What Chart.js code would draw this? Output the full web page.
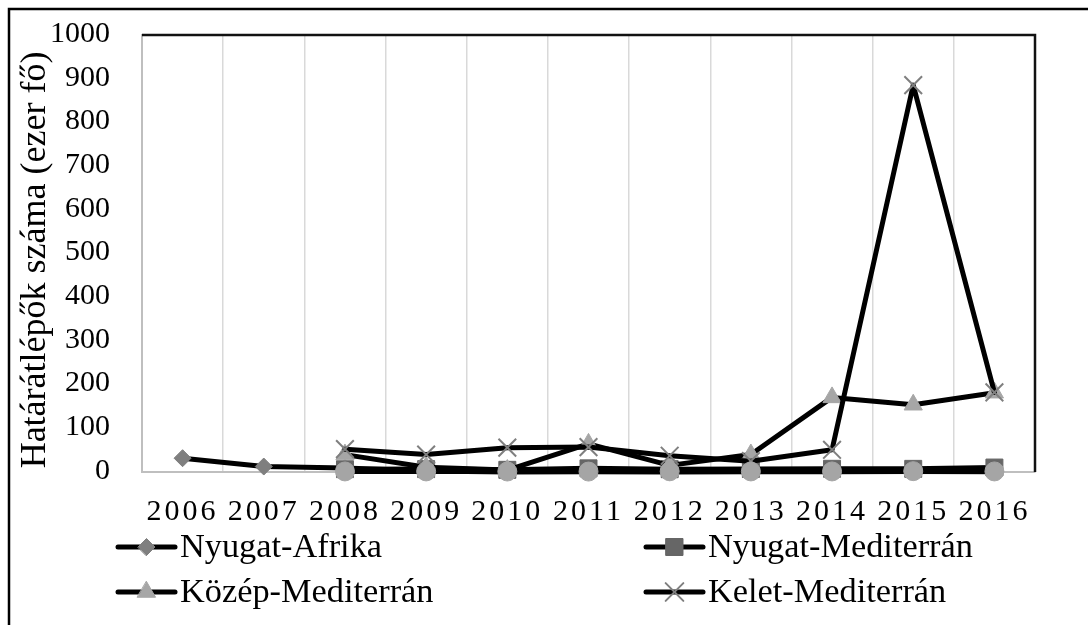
<!DOCTYPE html>
<html>
<head>
<meta charset="utf-8">
<script src="https://cdn.jsdelivr.net/npm/chart.js@4.4.0/dist/chart.umd.min.js"></script>
<style>
html,body{margin:0;padding:0;background:#fff;}
#wrap{width:1088px;height:625px;position:relative;overflow:hidden;}
canvas{display:block;}
</style>
</head>
<body>
<div id="wrap"><canvas id="c" width="1088" height="625"></canvas></div>
<script>
// ---- data (ezer fő) ----
const years = ['2006','2007','2008','2009','2010','2011','2012','2013','2014','2015','2016'];
const nyugatAfrika      = [31.6, 12.5, 9.2, 2.2, 0.2, 0.3, 0.2, 0.3, 0.3, 0.9, 0.7];
const nyugatMediterran  = [null, null, 6.5, 6.6, 5.0, 8.4, 6.4, 6.8, 7.3, 7.2, 10.2];
const kozepMediterran   = [null, null, 39.8, 11.0, 4.5, 64.3, 15.2, 40.0, 170.7, 153.9, 181.5];
const keletMediterran   = [null, null, 52.3, 40.0, 55.7, 57.0, 37.2, 24.8, 50.8, 885.4, 182.3];
const otodikSor         = [null, null, 1.3, 1.3, 1.1, 1.0, 1.6, 1.3, 1.3, 1.9, 1.3];
const seriesLabels = ['Nyugat-Afrika','Nyugat-Mediterrán','Közép-Mediterrán','Kelet-Mediterrán',''];
const yTickValues = [0,100,200,300,400,500,600,700,800,900,1000];
const yTitle = 'Határátlépők száma (ezer fő)';

const FONT = '"Liberation Serif", "Times New Roman", serif';

function mk(i, data, style, radius, color, bw) {
  return {
    label: seriesLabels[i], data: data,
    borderColor: '#000', borderWidth: 5, borderJoinStyle: 'round', borderCapStyle: 'round',
    tension: 0, fill: false, clip: false, order: -i,
    pointStyle: style, pointRadius: radius, pointHoverRadius: radius,
    pointBackgroundColor: color, pointBorderColor: color, pointBorderWidth: bw
  };
}

const datasets = [
  mk(0, nyugatAfrika, 'rectRot', 8.5, '#7f7f7f', 1),
  mk(1, nyugatMediterran, 'rect', 12, '#666666', 1),
  mk(2, kozepMediterran, 'triangle', 10.5, '#a6a6a6', 1),
  mk(3, keletMediterran, 'crossRot', 12.5, '#7f7f7f', 2),
  mk(4, otodikSor, 'circle', 9.5, '#a5a5a5', 1)
];

const framePlugin = {
  id: 'frame',
  beforeDatasetsDraw(chart) {
    const c = chart.ctx, a = chart.chartArea;
    c.save();
    c.strokeStyle = '#000'; c.lineWidth = 2.5;
    c.beginPath();
    c.moveTo(9, 625); c.lineTo(9, 9); c.lineTo(1088, 9);
    c.stroke();
    c.strokeStyle = '#111';
    c.beginPath();
    c.moveTo(a.left, a.top); c.lineTo(a.right, a.top); c.lineTo(a.right, a.bottom);
    c.stroke();
    c.restore();
  },
  afterDraw(chart) {
    const c = chart.ctx;
    c.save();
    c.translate(36, 260);
    c.rotate(-Math.PI / 2);
    c.font = '36px ' + FONT;
    c.fillStyle = '#000';
    c.textAlign = 'center'; c.textBaseline = 'middle';
    c.fillText(yTitle, 0, 0);
    c.restore();
  }
};

const legendPlugin = {
  id: 'customLegend',
  afterDraw(chart) {
    const c = chart.ctx;
    const pos = [[118,547],[646,547],[118,592],[646,592]];
    c.save();
    pos.forEach((p, i) => {
      const ds = chart.data.datasets[i];
      const x = p[0], y = p[1];
      c.strokeStyle = '#000'; c.lineWidth = 5; c.lineCap = 'round';
      c.beginPath(); c.moveTo(x, y); c.lineTo(x + 57, y); c.stroke();
      c.fillStyle = ds.pointBackgroundColor; c.strokeStyle = ds.pointBorderColor;
      c.lineWidth = ds.pointBorderWidth;
      if (Chart.helpers && Chart.helpers.drawPoint) {
        Chart.helpers.drawPoint(c, {pointStyle: ds.pointStyle, radius: ds.pointRadius, borderWidth: ds.pointBorderWidth, rotation: 0}, x + 28.5, y);
      }
      c.save();
      c.translate(x + 62, y + 1);
      c.scale(1.04, 1);
      c.fillStyle = '#000';
      c.font = '33px ' + FONT;
      c.textAlign = 'left'; c.textBaseline = 'middle';
      c.fillText(ds.label, 0, 0);
      c.restore();
    });
    c.restore();
  }
};

const chart = new Chart(document.getElementById('c'), {
  type: 'line',
  data: { labels: years, datasets: datasets },
  options: {
    responsive: false, animation: false, devicePixelRatio: 1,
    layout: { autoPadding: false, padding: { top: 35, right: 53, bottom: 0, left: 0 } },
    plugins: { legend: { display: false }, tooltip: { enabled: false } },
    scales: {
      x: {
        offset: true,
        grid: { offset: true, color: '#d9d9d9', lineWidth: 1.5, drawTicks: false },
        border: { color: '#bfbfbf', width: 2 },
        ticks: { font: { family: FONT, size: 30 }, color: '#000', padding: 22, maxRotation: 0, autoSkip: false },
        afterFit(s) { s.height = 153; s.paddingLeft = 0; s.paddingRight = 0; }
      },
      y: {
        min: 0, max: 1000,
        afterBuildTicks(s) { s.ticks = yTickValues.map(v => ({ value: v })); },
        grid: { display: false, drawTicks: false },
        border: { color: '#bfbfbf', width: 2 },
        ticks: { font: { family: FONT, size: 30 }, color: '#000', padding: 32, labelOffset: -1,
                 callback: (v) => String(v) },
        afterFit(s) { s.width = 142; s.paddingTop = 0; s.paddingBottom = 0; }
      }
    }
  },
  plugins: [framePlugin, legendPlugin]
});

const xs = chart.scales.x;
const origDL = xs.drawLabels.bind(xs);
xs.drawLabels = function (area) {
  const c = this.ctx; c.save(); c.letterSpacing = '3px'; origDL(area); c.restore();
};
chart.draw();
</script>
</body>
</html>
